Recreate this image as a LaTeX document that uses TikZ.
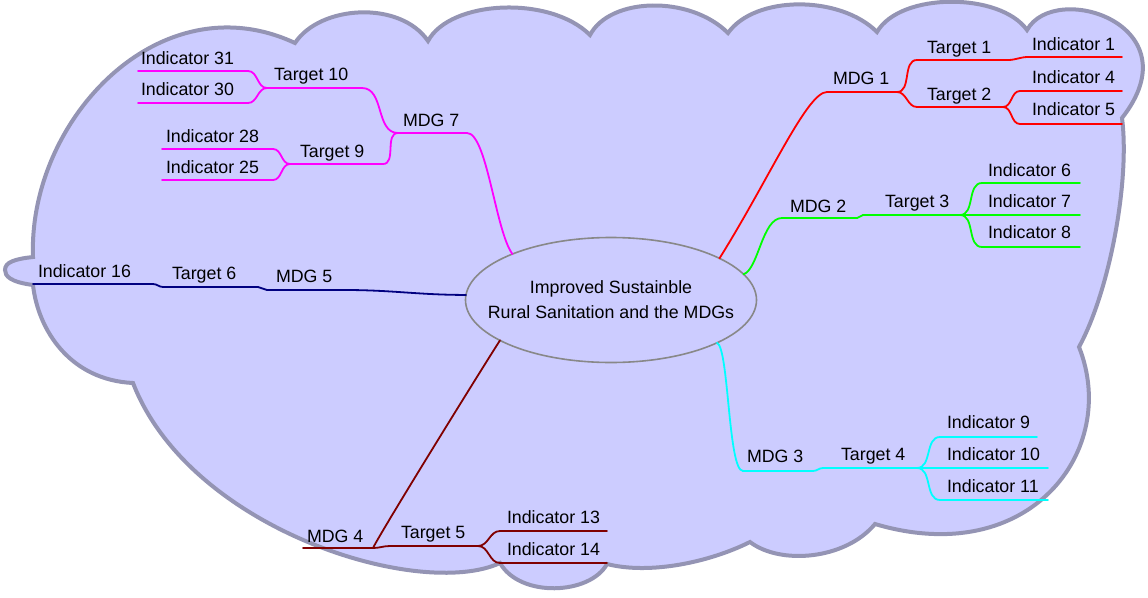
\documentclass[tikz,border=0pt]{standalone}
\usepackage{fontspec}
\setmainfont{Liberation Sans}
\usetikzlibrary{shapes.geometric}
\definecolor{lav}{RGB}{204,204,255}
\definecolor{cloudedge}{RGB}{148,148,180}
\definecolor{elledge}{RGB}{136,136,136}
\definecolor{mag}{RGB}{255,0,255}
\definecolor{grn}{RGB}{0,255,0}
\definecolor{cyn}{RGB}{0,255,255}
\definecolor{dred}{RGB}{128,0,0}
\definecolor{nvy}{RGB}{0,0,128}
\definecolor{rd}{RGB}{255,0,0}
\tikzset{
  lbl/.style={anchor=base west, inner sep=0pt, outer sep=0pt, font=\fontsize{17.8}{21}\selectfont, text=black},
  br/.style={line width=1.8pt, line cap=round},
  cloudshape/.style={fill=lav, draw=cloudedge, line width=4pt, line join=miter},
  rootnode/.style={ellipse, draw=elledge, fill=lav, line width=1.6pt, minimum width=291pt, minimum height=125pt, inner sep=0pt, outer sep=0pt},
  roottext/.style={inner sep=0pt, align=center, font=\fontsize{17.8}{25}\selectfont, text=black}
}
% name, colour, xL, xR, y, text x, text baseline, text
\newcommand\mmt[8]{%
  \coordinate (#1-l) at (#3,#5);
  \coordinate (#1-r) at (#4,#5);
  \node[lbl] (#1) at (#6,#7) {#8};
  \draw[br,#2] (#1-l) -- (#1-r);
}
\begin{document}
\begin{tikzpicture}[x=1pt,y=-1pt]
\useasboundingbox (0,0) rectangle (1148,597);
% cloud
\draw[cloudshape] (33,257) .. controls (28,120) and (160,-20) .. (295,43)
 .. controls (320,5) and (400,0) .. (428,41)
 .. controls (450,0) and (550,-5) .. (590,35)
 .. controls (610,-3) and (690,-5) .. (728,33)
 .. controls (755,-5) and (840,-5) .. (877,32)
 .. controls (900,-8) and (1000,-8) .. (1027,30)
 .. controls (1055,-20) and (1195,25) .. (1122,118)
 .. controls (1130,180) and (1110,290) .. (1079,347)
 .. controls (1120,450) and (1030,570) .. (875,524)
 .. controls (845,560) and (780,565) .. (750,542)
 .. controls (710,562) and (650,575) .. (607,564)
 .. controls (590,595) and (520,598) .. (500,563)
 .. controls (420,600) and (190,530) .. (133,383)
 .. controls (70,380) and (38,330) .. (33,285)
 .. controls (10,282) and (5,276) .. (5,270)
 .. controls (5,262) and (15,259) .. (33,257) -- cycle;
% root
\node[rootnode] (ell) at (611,300) {};
\node[roottext] (roottxt) at (ell.center) {Improved Sustainble\\Rural Sanitation and the MDGs};
% MDG 7 (magenta)
\mmt{m7}{mag}{398}{467}{133}{403}{126}{MDG 7}
\mmt{t10}{mag}{267}{362}{88}{274}{80}{Target 10}
\mmt{i31}{mag}{138}{248}{71}{141}{64}{Indicator 31}
\mmt{i30}{mag}{138}{248}{103}{141}{95}{Indicator 30}
\mmt{t9}{mag}{290}{383}{164}{300}{157}{Target 9}
\mmt{i28}{mag}{162}{273}{149}{166}{142}{Indicator 28}
\mmt{i25}{mag}{162}{273}{180}{166}{173}{Indicator 25}
\draw[br,mag] (m7-r) .. controls +(20,0) and +(-17,-23) .. (ell.155.7);
\draw[br,mag] (t10-r) to[out=0,in=180] (m7-l);
\draw[br,mag] (t9-r) to[out=0,in=180] (m7-l);
\draw[br,mag] (i31-r) to[out=0,in=180] (t10-l);
\draw[br,mag] (i30-r) to[out=0,in=180] (t10-l);
\draw[br,mag] (i28-r) to[out=0,in=180] (t9-l);
\draw[br,mag] (i25-r) to[out=0,in=180] (t9-l);
% MDG 5 (navy)
\mmt{m5}{nvy}{267}{345}{290}{276}{282}{MDG 5}
\mmt{t6}{nvy}{163}{258}{287}{172}{279}{Target 6}
\mmt{i16}{nvy}{33}{153}{284}{38}{277}{Indicator 16}
\draw[br,nvy] (m5-r) to[out=0,in=180] (ell.178);
\draw[br,nvy] (t6-r) to[out=0,in=180] (m5-l);
\draw[br,nvy] (i16-r) to[out=0,in=180] (t6-l);
% MDG 1 (red)
\mmt{m1}{rd}{827}{897}{92}{833}{84}{MDG 1}
\mmt{t1}{rd}{917}{1008}{60}{927}{53}{Target 1}
\mmt{i1}{rd}{1028}{1122}{57}{1032}{50}{Indicator 1}
\mmt{t2}{rd}{917}{1003}{107}{927}{100}{Target 2}
\mmt{i4}{rd}{1020}{1122}{91}{1032}{83}{Indicator 4}
\mmt{i5}{rd}{1020}{1122}{124}{1032}{115}{Indicator 5}
\draw[br,rd] (ell.21.2) .. controls +(50,-80) and +(-20,0) .. (m1-l);
\draw[br,rd] (m1-r) to[out=0,in=180] (t1-l);
\draw[br,rd] (m1-r) to[out=0,in=180] (t2-l);
\draw[br,rd] (t1-r) to[out=0,in=180] (i1-l);
\draw[br,rd] (t2-r) to[out=0,in=180] (i4-l);
\draw[br,rd] (t2-r) to[out=0,in=180] (i5-l);
% MDG 2 (green)
\mmt{m2}{grn}{782}{857}{218}{790}{212}{MDG 2}
\mmt{t3}{grn}{863}{960}{215}{885}{207}{Target 3}
\mmt{i6}{grn}{982}{1080}{183}{988}{176}{Indicator 6}
\mmt{i7}{grn}{968}{1080}{215}{988}{207}{Indicator 7}
\mmt{i8}{grn}{982}{1080}{247}{988}{238}{Indicator 8}
\draw[br,grn] (ell.11.6) .. controls +(15,-5) and +(-20,0) .. (m2-l);
\draw[br,grn] (m2-r) to[out=0,in=180] (t3-l);
\draw[br,grn] (t3-r) to[out=0,in=180] (i6-l);
\draw[br,grn] (t3-r) -- (i7-l);
\draw[br,grn] (t3-r) to[out=0,in=180] (i8-l);
% MDG 3 (cyan)
\mmt{m3}{cyn}{743}{813}{471}{747}{462}{MDG 3}
\mmt{t4}{cyn}{823}{917}{468}{841}{460}{Target 4}
\mmt{i9}{cyn}{940}{1037}{437}{947}{428}{Indicator 9}
\mmt{i10}{cyn}{925}{1048}{468}{947}{460}{Indicator 10}
\mmt{i11}{cyn}{940}{1048}{500}{947}{492}{Indicator 11}
\draw[br,cyn] (ell.338.1) .. controls +(12,5) and +(-15,0) .. (m3-l);
\draw[br,cyn] (m3-r) to[out=0,in=180] (t4-l);
\draw[br,cyn] (t4-r) to[out=0,in=180] (i9-l);
\draw[br,cyn] (t4-r) -- (i10-l);
\draw[br,cyn] (t4-r) to[out=0,in=180] (i11-l);
% MDG 4 (dark red)
\mmt{m4}{dred}{303}{373}{548}{307}{542}{MDG 4}
\mmt{t5}{dred}{390}{478}{546}{401}{538}{Target 5}
\mmt{i13}{dred}{500}{607}{531}{507}{523}{Indicator 13}
\mmt{i14}{dred}{500}{607}{563}{507}{555}{Indicator 14}
\draw[br,dred] (ell.200.1) .. controls +(-10,15) and +(10,-20) .. (m4-r);
\draw[br,dred] (m4-r) to[out=0,in=180] (t5-l);
\draw[br,dred] (t5-r) to[out=0,in=180] (i13-l);
\draw[br,dred] (t5-r) to[out=0,in=180] (i14-l);
\end{tikzpicture}
\end{document}
